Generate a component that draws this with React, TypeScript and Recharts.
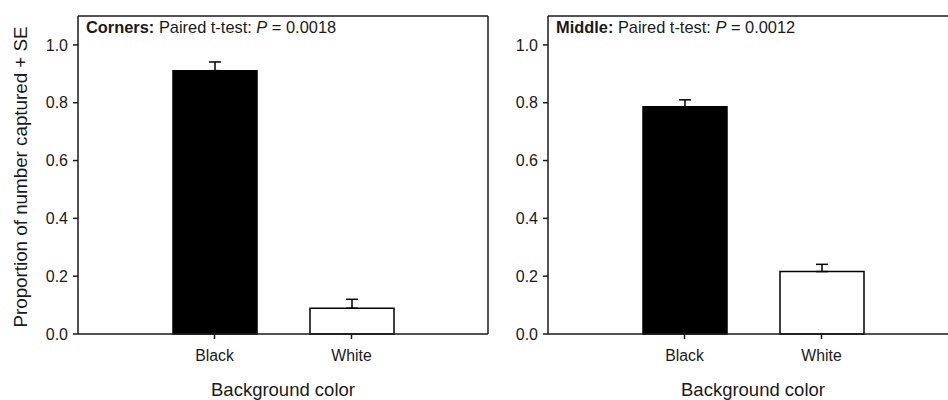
import { Bar, BarChart, Cell, ErrorBar, Line, XAxis, YAxis } from "recharts";

const categories = ["Black", "White"];
const barColors = ["#000000", "#ffffff"];
const cornersMean = [0.911, 0.089];
const cornersSE = [0.03, 0.031];
const middleMean = [0.786, 0.216];
const middleSE = [0.024, 0.025];
const yTicks = [0, 0.2, 0.4, 0.6, 0.8, 1.0];

const font = "'Liberation Sans', Arial, sans-serif";
const ink = "#1a1a1a";

function buildRows(means: number[], ses: number[]) {
  return categories.map((name, i) => ({
    name,
    mean: means[i],
    err: [0, ses[i]],
  }));
}

function Panel({
  rows,
  label,
  pValue,
  showYLabel,
  width,
  left,
}: {
  rows: { name: string; mean: number; err: number[] }[];
  label: string;
  pValue: string;
  showYLabel: boolean;
  width: number;
  left: number;
}) {
  const yAxisWidth = showYLabel ? 60 : 58;
  return (
    <div style={{ position: "absolute", left, top: 0 }}>
      <BarChart
        width={width}
        height={400}
        data={rows}
        margin={{ top: 15, right: 1, bottom: 0, left: showYLabel ? 18 : 0 }}
        style={{ fontFamily: font }}
      >
        <XAxis
          dataKey="name"
          padding={{ left: 68, right: 68 }}
          height={66}
          stroke={ink}
          strokeWidth={1.5}
          tickSize={5}
          tickMargin={11}
          tick={{ fill: ink, fontSize: 15.8 }}
          label={{
            value: "Background color",
            position: "insideBottom",
            offset: 4,
            fill: ink,
            fontSize: 18.5,
          }}
        />
        <XAxis
          xAxisId="top"
          orientation="top"
          dataKey="name"
          padding={{ left: 68, right: 68 }}
          height={1}
          tick={false}
          tickLine={false}
          stroke={ink}
          strokeWidth={1.5}
          label={(props: any) => {
            const vb = props.viewBox || { x: 0, y: 0, height: 0 };
            return (
              <text
                x={vb.x + 8}
                y={vb.y + vb.height + 17}
                fill={ink}
                fontSize={16.4}
                fontFamily={font}
              >
                <tspan fontWeight="bold">{label}:</tspan>
                <tspan> Paired t-test: </tspan>
                <tspan fontStyle="italic">P</tspan>
                <tspan> = {pValue}</tspan>
              </text>
            );
          }}
        />
        <YAxis
          domain={[0, 1.1]}
          ticks={yTicks}
          width={yAxisWidth}
          stroke={ink}
          strokeWidth={1.5}
          tickSize={5}
          tickMargin={5}
          tick={{ fill: ink, fontSize: 16 }}
          tickFormatter={(v: number) => v.toFixed(1)}
          label={
            showYLabel
              ? (props: any) => {
                  const vb = props.viewBox || { x: 0, y: 0, height: 0 };
                  const cy = vb.y + vb.height / 2 + 2;
                  return (
                    <text
                      x={27}
                      y={cy}
                      transform={`rotate(-90 27 ${cy})`}
                      textAnchor="middle"
                      fill={ink}
                      fontSize={18.8}
                      fontFamily={font}
                    >
                      Proportion of number captured + SE
                    </text>
                  );
                }
              : undefined
          }
        />
        <YAxis
          yAxisId="right"
          orientation="right"
          domain={[0, 1.1]}
          width={1}
          tick={false}
          tickLine={false}
          stroke={ink}
          strokeWidth={1.5}
        />
        <Bar
          dataKey="mean"
          barSize={84}
          stroke="#000"
          strokeWidth={1.5}
          isAnimationActive={false}
        >
          {rows.map((r, i) => (
            <Cell key={r.name} fill={barColors[i]} />
          ))}
          <ErrorBar
            dataKey="err"
            width={6}
            stroke="#000"
            strokeWidth={1.5}
            isAnimationActive={false}
          />
        </Bar>
        {/* invisible series so the frame axes (top / right) are drawn */}
        <Line
          xAxisId="top"
          yAxisId="right"
          dataKey="mean"
          stroke="transparent"
          dot={false}
          activeDot={false}
          isAnimationActive={false}
        />
      </BarChart>
    </div>
  );
}

export default function App() {
  return (
    <div
      style={{
        position: "absolute",
        left: 0,
        top: 0,
        width: 948,
        height: 400,
        overflow: "hidden",
        background: "#fff",
      }}
    >
      <Panel
        rows={buildRows(cornersMean, cornersSE)}
        label="Corners"
        pValue="0.0018"
        showYLabel
        width={490}
        left={0}
      />
      <Panel
        rows={buildRows(middleMean, middleSE)}
        label="Middle"
        pValue="0.0012"
        showYLabel={false}
        width={470}
        left={490}
      />
    </div>
  );
}
